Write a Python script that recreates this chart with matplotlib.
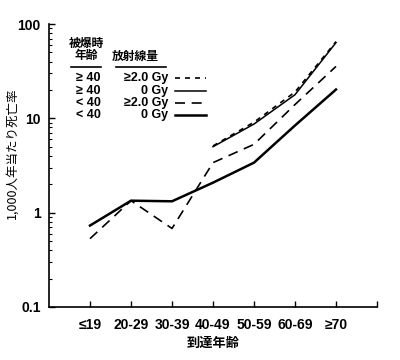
import matplotlib
matplotlib.use("Agg")
import matplotlib.pyplot as plt
from matplotlib.ticker import LogLocator, NullFormatter

plt.rcParams['font.family'] = ['Liberation Sans', 'Noto Sans CJK JP', 'DejaVu Sans']

categories = ["≤19", "20-29", "30-39", "40-49", "50-59", "60-69", "≥70"]
old_high = [None, None, None, 5.1, 9.1, 19.0, 65.0]     # ≥40, ≥2.0 Gy
old_zero = [None, None, None, 5.0, 8.7, 17.8, 63.5]     # ≥40, 0 Gy
young_high = [0.53, 1.34, 0.68, 3.39, 5.3, 14.0, 35.5]  # <40, ≥2.0 Gy
young_zero = [0.73, 1.34, 1.32, 2.08, 3.39, 8.4, 20.2]  # <40, 0 Gy

legend_age = ["≥ 40", "≥ 40", "< 40", "< 40"]
legend_dose = ["≥2.0 Gy", "0 Gy", "≥2.0 Gy", "0 Gy"]

W, H = 400, 360
fig = plt.figure(figsize=(W / 100, H / 100), dpi=100)
ax = fig.add_axes([49 / W, 1 - 307 / H, (377 - 49) / W, (307 - 24) / H])

def xy(vals):
    xs = [i for i, v in enumerate(vals) if v is not None]
    ys = [v for v in vals if v is not None]
    return xs, ys

styles = [
    (old_high, dict(color='black', lw=1.2, linestyle=(0, (3, 3)))),
    (old_zero, dict(color='black', lw=1.1, linestyle='-')),
    (young_high, dict(color='black', lw=1.2, linestyle=(0, (6, 4)))),
    (young_zero, dict(color='black', lw=1.8, linestyle='-')),
]
for vals, st in styles:
    xs, ys = xy(vals)
    ax.plot(xs, ys, **st)

ax.set_yscale('log')
ax.set_ylim(0.1, 100)
ax.set_xlim(-1, 7)
ax.set_xticks(range(8))
ax.set_xticklabels(categories + [""], fontsize=10, fontweight='bold')
ax.set_yticks([0.1, 1, 10, 100])
ax.set_yticklabels(["0.1", "1", "10", "100"], fontsize=10, fontweight='bold')
ax.yaxis.set_minor_locator(LogLocator(base=10, subs=range(2, 10)))
ax.yaxis.set_minor_formatter(NullFormatter())
ax.tick_params(axis='both', which='major', direction='in', length=4, width=1)
ax.tick_params(axis='y', which='minor', direction='in', length=2, width=0.8)
ax.tick_params(axis='x', pad=8)
ax.tick_params(axis='y', pad=6)
for s in ['top', 'right']:
    ax.spines[s].set_visible(False)
for s in ['left', 'bottom']:
    ax.spines[s].set_linewidth(1.2)

ax.set_xlabel("到達年齢", fontsize=9.5, fontweight='bold', labelpad=4)

def fx(px):
    return px / W

def fy(py):
    return 1 - py / H

fig.text(fx(12.5), fy(153), "1,000人年当たり死亡率", rotation=90, ha='center', va='center',
         fontsize=9, family=['Noto Sans CJK JP', 'DejaVu Sans'])

# legend drawn as figure text
fig.text(fx(86), fy(50), "被爆時\n年齢", ha='center', va='center', fontsize=8.5,
         fontweight='bold', linespacing=1.0)
fig.text(fx(135), fy(57), "放射線量", ha='center', va='center', fontsize=8.5,
         fontweight='bold')
fig.add_artist(plt.Line2D([fx(71), fx(101)], [fy(67), fy(67)], color='black', lw=1.2))
fig.add_artist(plt.Line2D([fx(116), fx(166)], [fy(67), fy(67)], color='black', lw=1.2))

rows_y = [78, 91, 103, 115]
for i, (a, d) in enumerate(zip(legend_age, legend_dose)):
    y = rows_y[i]
    fig.text(fx(88), fy(y), a, ha='center', va='center', fontsize=9, fontweight='bold')
    fig.text(fx(168), fy(y), d, ha='right', va='center', fontsize=9, fontweight='bold')
    st = styles[i][1]
    fig.add_artist(plt.Line2D([fx(175), fx(206)], [fy(y), fy(y)], **st))

fig.savefig("out.png", dpi=100)
